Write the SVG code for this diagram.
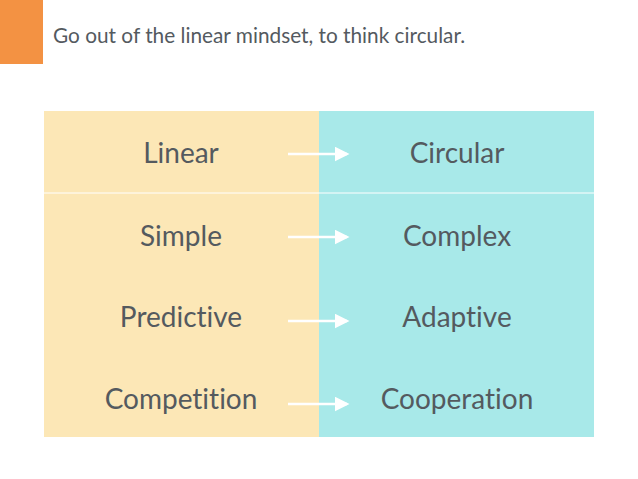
<svg xmlns="http://www.w3.org/2000/svg" width="638" height="479" viewBox="0 0 638 479">
<defs>
<style>
.t{font-family:Lato,"Open Sans",sans-serif;font-size:28px;fill:#545a5f;text-anchor:middle;font-variant-ligatures:none}
.h{font-family:Lato,"Open Sans",sans-serif;font-size:20.8px;fill:#545a5f;font-variant-ligatures:none}
.a{stroke:#fff;stroke-width:2.5;fill:none}
</style>
<marker id="ah" markerWidth="6" markerHeight="6" refX="5" refY="3" orient="auto" markerUnits="strokeWidth"><path d="M0,0 L6,3 L0,6 z" fill="#fff"/></marker>
</defs>
<rect width="638" height="479" fill="#fff"/>
<rect x="0" y="0" width="43" height="64" fill="#F39243"/>
<text class="h" x="53" y="43">Go out of the linear mindset, to think circular.</text>
<g id="left-col"><rect x="44" y="111" width="275" height="326" fill="#FCE7B6"/></g>
<g id="right-col"><rect x="319" y="111" width="275" height="326" fill="#A8E9E9"/></g>
<line x1="44" y1="193" x2="594" y2="193" stroke="#fff" stroke-width="1"/>
<g id="n-linear"><text class="t" x="181" y="163">Linear</text></g>
<g id="n-circular"><text class="t" x="457" y="163">Circular</text></g>
<g id="n-simple"><text class="t" x="181" y="246">Simple</text></g>
<g id="n-complex"><text class="t" x="457" y="246">Complex</text></g>
<g id="n-predictive"><text class="t" x="181" y="327">Predictive</text></g>
<g id="n-adaptive"><text class="t" x="457" y="327">Adaptive</text></g>
<g id="n-competition"><text class="t" x="181" y="409">Competition</text></g>
<g id="n-cooperation"><text class="t" x="457" y="409">Cooperation</text></g>
<g id="connectors">
<line class="a" x1="288" y1="154" x2="347" y2="154" marker-end="url(#ah)"/>
<line class="a" x1="288" y1="237" x2="347" y2="237" marker-end="url(#ah)"/>
<line class="a" x1="288" y1="321" x2="347" y2="321" marker-end="url(#ah)"/>
<line class="a" x1="288" y1="404" x2="347" y2="404" marker-end="url(#ah)"/>
</g>
</svg>
